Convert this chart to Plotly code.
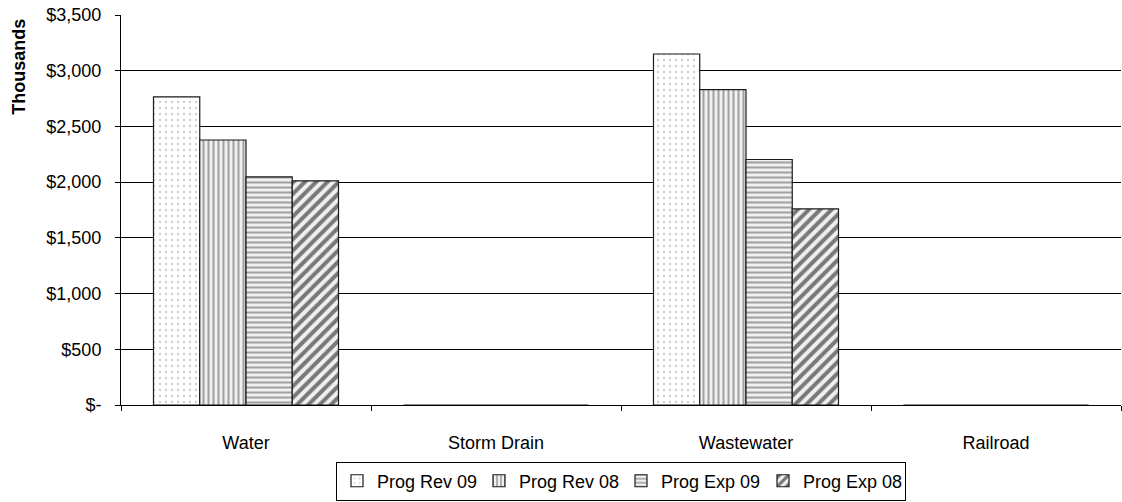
import plotly.graph_objects as go

categories = ["Water", "Storm Drain", "Wastewater", "Railroad"]
series_names = ["Prog Rev 09", "Prog Rev 08", "Prog Exp 09", "Prog Exp 08"]
prog_rev_09 = [2765, 0, 3150, 0]
prog_rev_08 = [2378, 0, 2830, 0]
prog_exp_09 = [2048, 0, 2203, 0]
prog_exp_08 = [2012, 0, 1760, 0]
y_tick_vals = [0, 500, 1000, 1500, 2000, 2500, 3000, 3500]
y_tick_text = ["$-", "$500", "$1,000", "$1,500", "$2,000", "$2,500", "$3,000", "$3,500"]
y_title = "Thousands"

values = [prog_rev_09, prog_rev_08, prog_exp_09, prog_exp_08]
patterns = [
    dict(shape=".", fgcolor="#a0a0a0", bgcolor="#ffffff", size=6, solidity=0.12),
    dict(shape="|", fgcolor="#505050", bgcolor="#f0f0f0", size=5, solidity=0.4),
    dict(shape="-", fgcolor="#505050", bgcolor="#f0f0f0", size=5, solidity=0.4),
    dict(shape="/", fgcolor="#000000", bgcolor="#f0f0f0", size=8, solidity=0.5),
]

fig = go.Figure()
for name, vals, pat in zip(series_names, values, patterns):
    fig.add_trace(go.Bar(
        name=name, x=categories, y=vals,
        marker=dict(color="#ffffff", pattern=pat,
                    line=dict(color="#1a1a1a", width=1.2)),
    ))

fig.add_annotation(
    text="<b>" + y_title + "</b>", xref="paper", yref="paper",
    x=-0.102, y=0.8675, xanchor="center", yanchor="middle",
    textangle=-90, showarrow=False, font=dict(size=18, color="black"),
)

fig.update_layout(
    width=1122, height=502,
    margin=dict(l=121, r=1, t=15, b=87),
    paper_bgcolor="white", plot_bgcolor="white",
    barmode="group", bargap=0.26, bargroupgap=0,
    font=dict(family="Liberation Sans, Arial", size=18, color="black"),
    showlegend=True,
    legend=dict(orientation="h", x=0.5, xanchor="center", y=-0.145, yanchor="top",
                bordercolor="black", borderwidth=1, font=dict(size=18),
                itemwidth=30, tracegroupgap=0, entrywidth=97,
                entrywidthmode="pixels"),
    xaxis=dict(showline=True, linecolor="black", linewidth=1, ticks="outside",
               tickson="boundaries", ticklen=5, tickcolor="black",
               showgrid=False, tickfont=dict(size=18), ticklabelstandoff=21),
    yaxis=dict(range=[0, 3500], tickvals=y_tick_vals, ticktext=y_tick_text,
               showline=True, linecolor="black", linewidth=1, ticks="outside",
               ticklen=5, tickcolor="black", showgrid=True, gridcolor="black",
               gridwidth=1, zeroline=False, tickfont=dict(size=18),
               ticklabelstandoff=10, ticklabeloverflow="allow"),
)

fig.write_html(
    "out.html",
    config={"displayModeBar": False},
    post_script="document.body.style.margin='0';document.body.style.overflow='hidden';",
)
